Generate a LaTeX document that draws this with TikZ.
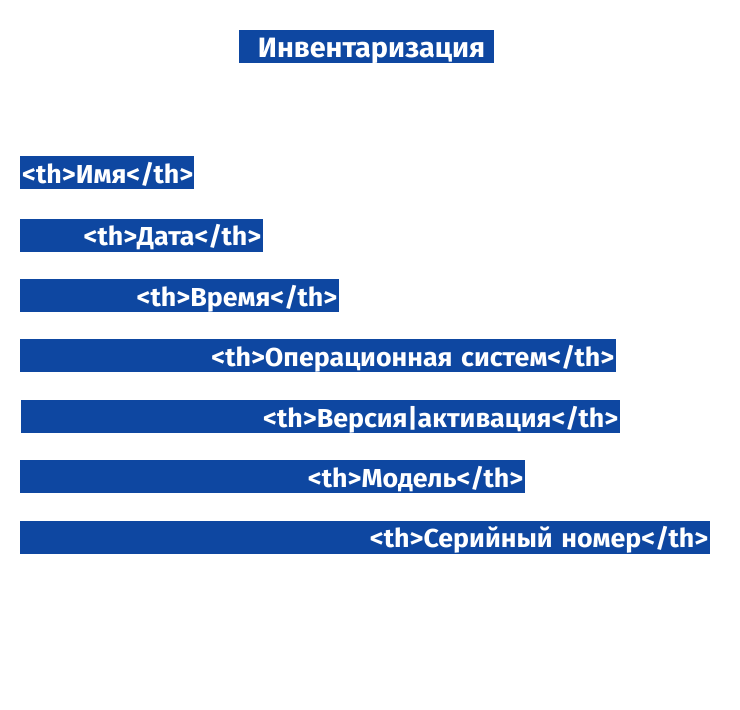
\documentclass[tikz,border=0pt]{standalone}
\usepackage{fontspec}
\setmainfont{Fira Sans}[FakeStretch=1.03]
\usetikzlibrary{positioning}
\definecolor{barblue}{RGB}{14,71,161}

\begin{document}
\begin{tikzpicture}[x=1pt,y=-1pt,node distance=27pt,
	every node/.style={fill=barblue,text=white,inner xsep=2pt,inner ysep=0pt,text height=27.3pt,text depth=5.7pt,align=right},
	thbar/.style={anchor=north west,font=\bfseries\fontsize{26}{31}\selectfont,text width=#1}]
	\useasboundingbox (0,0) rectangle (740,710);

	\node[anchor=north west,inner xsep=9pt,text width=237pt,font=\bfseries\fontsize{28}{33}\selectfont] (title) at (239,30) {Инвентаризация};

	\node[thbar=170pt] (name) at (20,156) {<th>Имя</th>};
	\node[below=29pt of name.south west,thbar=239pt] (date) {<th>Дата</th>};
	\node[below=of date.south west,thbar=315pt] (time) {<th>Время</th>};
	\node[below=of time.south west,thbar=592pt] (os) {<th>Операционная систем</th>};
	\node[below=of os.south west,xshift=1pt,thbar=595pt] (version) {<th>Версия|активация</th>};
	\node[below=of version.south west,xshift=-1pt,thbar=501pt] (model) {<th>Модель</th>};
	\node[below=of model.south west,thbar=686pt] (serial) {<th>Серийный номер</th>};
\end{tikzpicture}
\end{document}
